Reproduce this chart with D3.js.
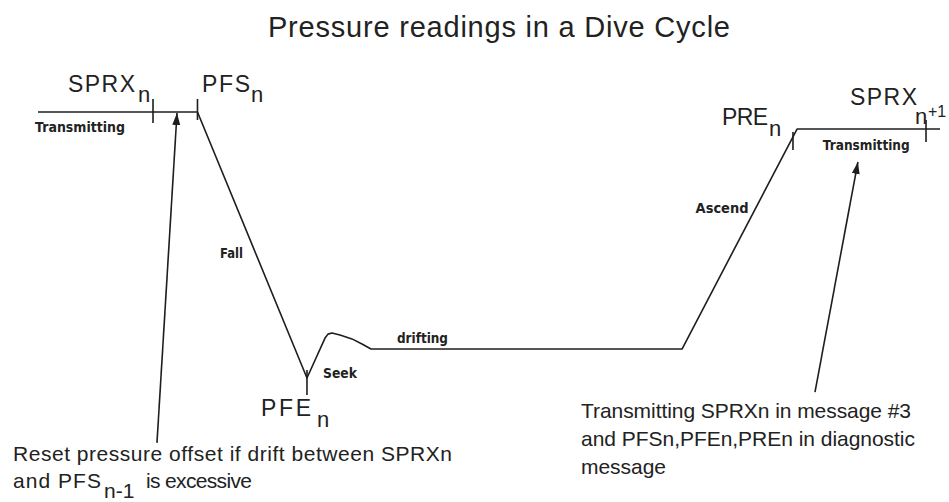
<!DOCTYPE html>
<html>
<head>
<meta charset="utf-8">
<script src="https://cdn.jsdelivr.net/npm/d3@7"></script>
<style>
  html, body { margin: 0; padding: 0; background: #fff; }
  svg { display: block; }
</style>
</head>
<body>
<svg id="chart" width="949" height="502"></svg>
<script>
// ---------------- data ----------------
const chartTitle = "Pressure readings in a Dive Cycle";

// dive profile: time (arbitrary units 0-100) vs pressure (arbitrary units, 0 = surface)
const profileTime     = [0, 17.68, 29.82, 31.82, 32.15, 32.59, 33.48, 34.81, 35.92, 36.92, 71.40, 84.15, 100];
const profilePressure = [0, 0,     100,   85.0,  83.5,  83.1,  83.8,  85.3,  87.2,  89.1,  89.1,  6.4,   6.4];

// pressure-reading events
const eventNames    = ["SPRX", "PFS", "PFE", "PRE", "SPRX"];
const eventSubs     = ["n", "n", "n", "n", "n+1"];
const eventTime     = [12.75, 17.68, 29.82, 83.7, 98.45];
const eventPressure = [0, 0, 100, 10.9, 6.4];

// phase labels
const phaseNames    = ["Transmitting", "Fall", "Seek", "drifting", "Ascend", "Transmitting"];
const phaseTime     = [-0.33, 20.18, 31.6, 39.8, 72.9, 87.0];
const phasePressure = [7.5, 54.9, 100, 86.8, 38.0, 14.3];

// annotation arrows: from (time, pressure) to (time, pressure)
const arrowFromTime     = [13.19, 86.14];
const arrowFromPressure = [124.4, 105.3];
const arrowToTime       = [15.41, 90.9];
const arrowToPressure   = [0.4, 18.8];

// annotation notes
const noteLeft  = ["Reset pressure offset if drift between SPRXn", "and PFS", "n-1", "is excessive"];
const noteRight = ["Transmitting SPRXn in message #3", "and PFSn,PFEn,PREn in diagnostic", "message"];

// ---------------- drawing ----------------
const svg = d3.select("#chart");
const ink = "#1e1e1e";
const sans = "'Liberation Sans', Arial, sans-serif";
const small = "'DejaVu Sans', sans-serif";

const x = d3.scaleLinear().domain([0, 100]).range([38, 940]);
const y = d3.scaleLinear().domain([0, 100]).range([112, 378]);

// arrow marker
svg.append("defs").append("marker")
  .attr("id", "head")
  .attr("viewBox", "0 0 12 8")
  .attr("refX", 12).attr("refY", 4)
  .attr("markerUnits", "userSpaceOnUse")
  .attr("markerWidth", 12).attr("markerHeight", 8)
  .attr("orient", "auto")
  .append("path").attr("d", "M0,0 L12,4 L0,8 Z").attr("fill", ink);

// title
svg.append("text")
  .attr("x", 268).attr("y", 37)
  .attr("font-family", sans).attr("font-size", 29)
  .attr("fill", "#222")
  .attr("textLength", 462).attr("lengthAdjust", "spacing")
  .text(chartTitle);

// profile line
const profile = profileTime.map((t, i) => [t, profilePressure[i]]);
svg.append("path")
  .datum(profile)
  .attr("d", d3.line().x(d => x(d[0])).y(d => y(d[1])))
  .attr("fill", "none").attr("stroke", ink).attr("stroke-width", 1.6)
  .attr("stroke-linejoin", "round");

// event ticks (up / down extents in px)
const tickUp   = [13, 13, 8, 9, 9];
const tickDown = [11, 8, 17, 9, 13];
svg.selectAll("line.tick").data(eventTime).join("line")
  .attr("class", "tick")
  .attr("x1", (t) => x(t)).attr("x2", (t) => x(t))
  .attr("y1", (t, i) => y(eventPressure[i]) - tickUp[i])
  .attr("y2", (t, i) => y(eventPressure[i]) + tickDown[i])
  .attr("stroke", ink).attr("stroke-width", 1.6);

// event labels
const lblDx     = [-85, 4.5, -46, -71, -76];
const lblY      = [92, 92, 416, 125, 105];
const lblLen    = [67, 48, 50, 46, 67];
const subDx     = [70, 49, 56, 47, 65];
const subDy     = [10, 10, 11, 11, 19];
eventNames.forEach((name, i) => {
  const lx = x(eventTime[i]) + lblDx[i];
  svg.append("text")
    .attr("x", lx).attr("y", lblY[i])
    .attr("font-family", sans).attr("font-size", 23).attr("fill", "#222")
    .attr("textLength", lblLen[i]).attr("lengthAdjust", "spacing")
    .text(name);
  const sub = eventSubs[i];
  svg.append("text")
    .attr("x", lx + subDx[i]).attr("y", lblY[i] + subDy[i])
    .attr("font-family", sans).attr("font-size", 22).attr("fill", "#222")
    .text(sub.charAt(0));
  if (sub.length > 1) {
    svg.append("text")
      .attr("x", lx + subDx[i] + 13).attr("y", lblY[i] + subDy[i] - 7)
      .attr("font-family", sans).attr("font-size", 16).attr("fill", "#222")
      .text(sub.slice(1));
  }
});

// phase labels
const phaseLen = [90, 23, 34, 51, 53, 87];
svg.selectAll("text.phase").data(phaseNames).join("text")
  .attr("class", "phase")
  .attr("x", (d, i) => x(phaseTime[i]))
  .attr("y", (d, i) => y(phasePressure[i]))
  .attr("font-family", small).attr("font-size", 14).attr("font-weight", "bold")
  .attr("fill", "#222")
  .attr("textLength", (d, i) => phaseLen[i]).attr("lengthAdjust", "spacingAndGlyphs")
  .text(d => d);

// annotation arrows
svg.selectAll("line.arrow").data(arrowFromTime).join("line")
  .attr("class", "arrow")
  .attr("x1", (t) => x(t))
  .attr("y1", (t, i) => y(arrowFromPressure[i]))
  .attr("x2", (t, i) => x(arrowToTime[i]))
  .attr("y2", (t, i) => y(arrowToPressure[i]))
  .attr("stroke", ink).attr("stroke-width", 1.6)
  .attr("marker-end", "url(#head)");

// notes
const noteFont = 21;
function note(str, nx, ny, len, size) {
  const t = svg.append("text").attr("x", nx).attr("y", ny)
    .attr("font-family", sans).attr("font-size", size || noteFont).attr("fill", "#222")
    .text(str);
  if (len) t.attr("textLength", len).attr("lengthAdjust", "spacing");
  return t;
}
note(noteLeft[0], 13, 461, 439);
note(noteLeft[1], 13, 488, 88);
note(noteLeft[2], 104, 498);
note(noteLeft[3], 146, 488, 106);

const rightLen = [330, 334, 85];
noteRight.forEach((line, i) => note(line, 581, 418 + i * 28, rightLen[i]));
</script>
</body>
</html>
